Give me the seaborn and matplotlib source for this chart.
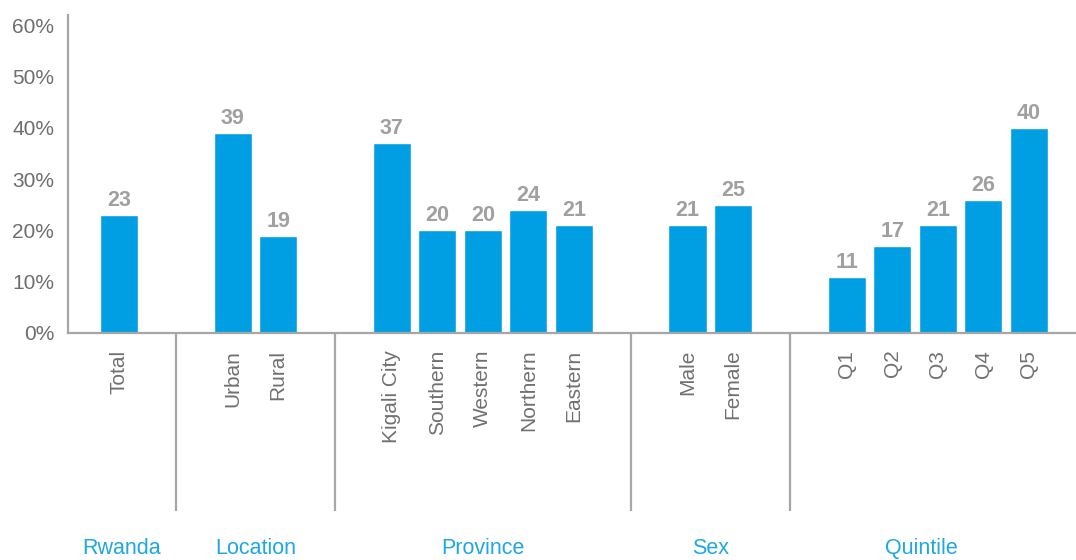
import matplotlib
matplotlib.use("Agg")
import matplotlib.pyplot as plt
import matplotlib.transforms as mtransforms
import seaborn as sns
import pandas as pd

# Share of households (%) by breakdown
categories = ["Total", "Urban", "Rural", "Kigali City", "Southern", "Western",
              "Northern", "Eastern", "Male", "Female", "Q1", "Q2", "Q3", "Q4", "Q5"]
values = [23, 39, 19, 37, 20, 20, 24, 21, 21, 25, 11, 17, 21, 26, 40]
groups = ["Rwanda", "Location", "Location", "Province", "Province", "Province",
          "Province", "Province", "Sex", "Sex", "Quintile", "Quintile", "Quintile",
          "Quintile", "Quintile"]
group_names = ["Rwanda", "Location", "Province", "Sex", "Quintile"]
ytick_values = [0, 10, 20, 30, 40, 50, 60]

sns.set_theme(style="white")
plt.rcParams["font.family"] = ["Liberation Sans", "DejaVu Sans"]

BAR = "#009fe3"
GROUP_BLUE = "#1ea7e4"
GREY_LINE = "#a6a6a6"
GAP = 2.5  # extra spacing between groups, in bar slots

# x positions: one slot per bar, wider gap between groups
positions = []
x = 0.0
prev = None
for g in groups:
    if prev is not None:
        x += GAP if g != prev else 1.0
    positions.append(x)
    prev = g

df = pd.DataFrame({"pos": positions, "value": values, "label": categories, "group": groups})

fig = plt.figure(figsize=(10.76, 5.6), dpi=100)
ax = fig.add_axes([68 / 1076, 1 - 333 / 560, 1 - 68 / 1076 + 0.01, (333 - 15) / 560])

sns.barplot(data=df, x="pos", y="value", native_scale=True, width=0.84,
            color=BAR, saturation=1, ax=ax, errorbar=None)

xmin = positions[0] - 1.12
xmax = xmin + (1076 + 11 - 68) / 45.5
ax.set_xlim(xmin, xmax)
ax.set_ylim(0, 62)

# value labels
for p, v in zip(positions, values):
    ax.annotate(f"{v}", (p, v), xytext=(0, 6.5), textcoords="offset points",
                ha="center", va="baseline", fontsize=15.5, fontweight="bold", color="#a0a0a0")

# axes styling
for side in ["top", "right"]:
    ax.spines[side].set_visible(False)
for side in ["left", "bottom"]:
    ax.spines[side].set_color(GREY_LINE)
    ax.spines[side].set_linewidth(1.6)

ax.set_yticks(ytick_values)
ax.set_yticklabels([f"{t}%" for t in ytick_values], fontsize=15, color="#6e6e6e")
ax.tick_params(axis="y", length=0, pad=10)

ax.set_xticks(positions)
ax.set_xticklabels(categories, rotation=90, fontsize=15, color="#707070", va="top")
ax.tick_params(axis="x", length=0, pad=12)
ax.set_xlabel("")
ax.set_ylabel("")

# group separators and group names below the tick labels
trans = mtransforms.blended_transform_factory(ax.transData, ax.transAxes)
seps = []
for i in range(1, len(groups)):
    if groups[i] != groups[i - 1]:
        seps.append((positions[i - 1] + positions[i]) / 2)
for s in seps:
    ax.plot([s, s], [0, -(511 - 333) / 318], transform=trans, color=GREY_LINE,
            lw=1.6, clip_on=False, solid_capstyle="butt")

bounds = [xmin] + seps + [positions[-1] + 0.55]
for name, lo, hi in zip(group_names, bounds[:-1], bounds[1:]):
    ax.text((lo + hi) / 2, -(554 - 333) / 318, name, transform=trans, ha="center",
            va="baseline", fontsize=15.5, color=GROUP_BLUE, clip_on=False)

fig.savefig("out.png", dpi=100)
